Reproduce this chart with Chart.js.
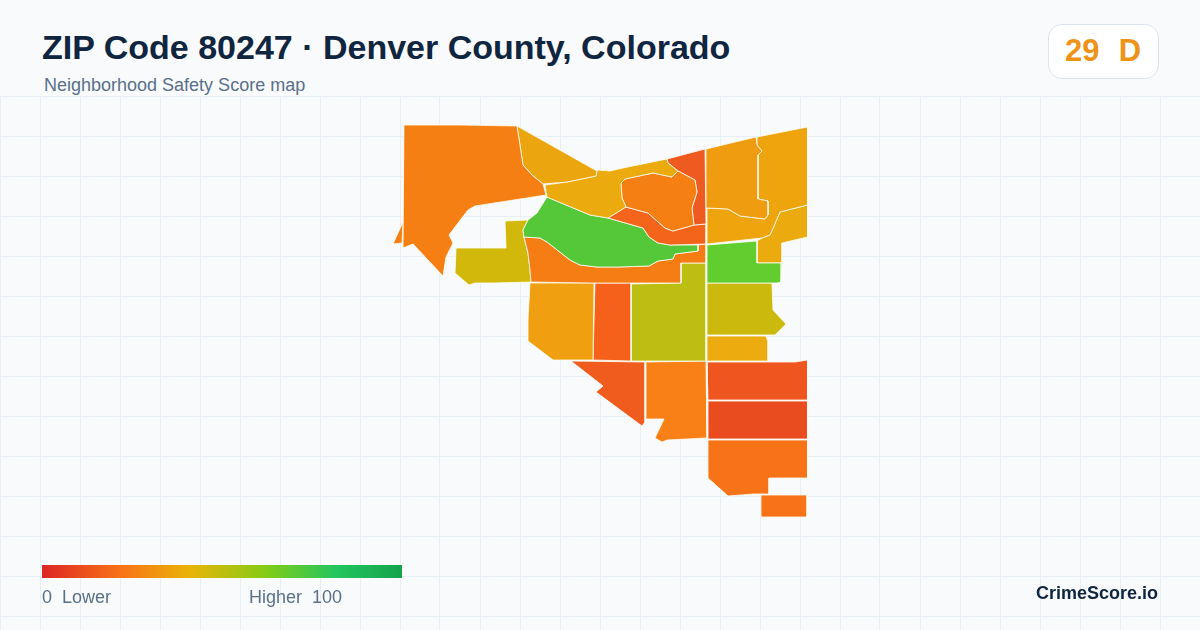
<!DOCTYPE html>
<html>
<head>
<meta charset="utf-8">
<title>ZIP Code 80247 map</title>
<script src="https://cdn.jsdelivr.net/npm/chart.js@4"></script>
<style>
  html, body { margin: 0; padding: 0; background: #f8fafc; }
  body { width: 1200px; height: 630px; position: relative; overflow: hidden; font-family: "Liberation Sans", Arial, sans-serif; }
  #map-wrap { position: absolute; left: 0; top: 96px; width: 1200px; height: 534px; }
  .abs { position: absolute; white-space: pre; }
  #title { left: 42px; top: 27px; font-size: 34px; line-height: 40px; font-weight: 700; color: #0f2540; }
  #subtitle { left: 44px; top: 75px; font-size: 18px; line-height: 20px; color: #5b7089; }
  #badge { left: 1048px; top: 24px; width: 109px; height: 53px; background: #fff; border: 1px solid #dde4ec; border-radius: 14px; }
  #score { left: 1065px; top: 33px; font-size: 31px; line-height: 36px; font-weight: 700; color: #ee9317; word-spacing: 1px; }
  #ramp { left: 42px; top: 565px; width: 360px; height: 13px; background: linear-gradient(90deg, #dc2626 0%, #f97316 22%, #eab308 41%, #84cc16 62%, #22c55e 82%, #16a34a 100%); }
  .legend-text { top: 587px; font-size: 18px; line-height: 20px; color: #5b7089; }
  #brand { left: 1036px; top: 583px; font-size: 18px; line-height: 20px; font-weight: 700; color: #0f2540; }
</style>
</head>
<body>
<div id="map-wrap"><canvas id="chart-map" width="1200" height="534"></canvas></div>
<div class="abs" id="title">ZIP Code 80247 · Denver County, Colorado</div>
<div class="abs" id="subtitle">Neighborhood Safety Score map</div>
<div class="abs" id="badge"></div>
<div class="abs" id="score">29  D</div>
<div class="abs" id="ramp"></div>
<div class="abs legend-text" style="left:42px">0  Lower</div>
<div class="abs legend-text" style="left:249px">Higher  100</div>
<div class="abs" id="brand">CrimeScore.io</div>

<script>
// Grid tick positions
const xTicks = [0,40,80,120,160,200,240,280,320,360,400,440,480,520,560,600,640,680,720,760,800,840,880,920,960,1000,1040,1080,1120,1160,1200];
const yTicks = [96,136,176,216,256,296,336,376,416,456,496,536,576,616];

// Neighborhood outlines
const northWest = [[404,125],[460,125],[517,126],[523,165],[532,175],[543,184],[546,195],[475,206],[468,210],[458,223],[449,235],[453,243],[446,257],[443,276],[413,244],[403,248]];
const northWestSliver = [[403,222],[393,244],[402,243]];
const topGold = [[517,126],[597,171],[596,176],[567,182],[543,184],[532,175],[523,165]];
const centerGold = [[545,185],[567,182],[596,176],[597,170],[610,171],[623,168],[667,159],[668,163],[678,171],[672,177],[653,173],[625,179],[621,183],[622,198],[626,207],[608,218],[590,215],[547,197]];
const innerOrange = [[625,179],[653,173],[672,177],[678,171],[695,180],[697,192],[692,208],[694,225],[673,231],[665,228],[648,213],[626,207],[622,198],[621,183]];
const topRed = [[667,159],[705,149],[706,224],[694,225],[692,208],[697,192],[695,180],[678,171],[668,163]];
const ribbon = [[626,207],[648,213],[665,228],[673,231],[694,225],[706,224],[706,244],[670,245],[658,243],[649,237],[643,228],[608,218]];
const parkGreen = [[547,197],[590,215],[608,218],[643,228],[649,237],[658,243],[670,245],[698,245],[698,251],[675,254],[673,259],[658,261],[649,266],[618,267],[597,267],[580,265],[570,260],[547,242],[540,238],[524,237],[523,230],[528,220],[537,213]];
const midBand = [[524,237],[540,238],[547,242],[570,260],[580,265],[597,267],[618,267],[649,266],[658,261],[673,259],[675,254],[698,251],[698,245],[706,244],[706,263],[681,263],[681,283],[590,283],[531,282],[530,270],[528,253]];
const westOlive = [[505,221],[528,220],[523,230],[524,237],[528,253],[530,270],[531,282],[493,283],[475,283],[469,285],[455,273],[456,248],[506,248]];
const southGold = [[530,283],[594,283],[593,360],[553,360],[528,341],[528,320]];
const stripRed = [[595,283],[631,283],[631,361],[593,360]];
const centerOlive = [[681,263],[706,263],[706,361],[631,361],[631,284],[681,283]];
const eastGreen = [[707,245],[757,241],[757,263],[782,263],[781,282],[777,283],[707,283]];
const eastOlive = [[707,283],[772,283],[773,310],[786,324],[775,335],[707,335]];
const eastGold = [[707,336],[766,336],[768,342],[768,361],[707,361]];
const diagonalRed = [[571,361],[645,362],[645,422],[642,426],[596,392],[603,386]];
const lowerOrange = [[646,362],[706,361],[707,438],[667,440],[662,442],[655,438],[664,419],[646,419]];
const blockRedA = [[707,362],[795,362],[807.5,360],[807.5,400],[708,400]];
const blockRedB = [[708,401],[807.5,401],[807.5,439],[708,439]];
const southOrange = [[708,440],[807.5,440],[807.5,478],[769,478],[769,494],[753,494],[728,496],[708,478]];
const southOrangeBlock = [[761,495],[807,495],[807,517],[761,517]];
const northEastOrange = [[706,149],[756,137],[757,145],[762,151],[758,155],[758,199],[768,201],[768,215],[765,219],[740,216],[728,209],[707,208]];
const northEastGold = [[757,137],[807.5,127],[807.5,205],[780,212],[770,235],[762,238],[707,244],[707,208],[728,209],[740,216],[765,219],[768,215],[768,201],[758,199],[758,155],[762,151],[757,145]];
const eastGoldTall = [[780,212],[807.5,205],[807.5,237],[782,243],[782,263],[757,263],[757,241],[762,238],[770,235]];

const regions = [
    northWest, northWestSliver, topGold, centerGold, innerOrange, topRed, ribbon, parkGreen, midBand, westOlive,
    southGold, stripRed, centerOlive, eastGreen, eastOlive, eastGold, diagonalRed, lowerOrange,
    blockRedA, blockRedB, southOrange, southOrangeBlock, northEastOrange, northEastGold, eastGoldTall,
];
const regionColors = [
    '#f67f13', '#f67f13', '#eba50e', '#ebaa0d', '#f67f13', '#ee5a20', '#f4641b', '#55c83a', '#f67c14', '#d3b80c',
    '#ef9f0f', '#f5611b', '#bcbf12', '#62cd2e', '#cbb90e', '#ecab0e', '#f05c1e', '#f88016',
    '#ee551f', '#e94c1f', '#f87318', '#f87318', '#ef9c11', '#eea40d', '#ebab0e',
];

const gridColor = '#e8eff4';

function makeRegion(points, color) {
    return {
        data: points.concat([points[0]]).map(p => ({ x: p[0], y: p[1] })),
        showLine: true,
        fill: 'shape',
        backgroundColor: color,
        borderColor: '#fffdf2',
        borderWidth: 0.8,
        pointRadius: 0,
        tension: 0,
        clip: false,
    };
}

new Chart(document.getElementById('chart-map'), {
    type: 'scatter',
    data: { datasets: regions.map((r, i) => makeRegion(r, regionColors[i])) },
    options: {
        responsive: false,
        animation: false,
        layout: { padding: 0 },
        plugins: { legend: { display: false }, tooltip: { enabled: false } },
        events: [],
        scales: {
            x: {
                type: 'linear',
                min: 0,
                max: 1200,
                afterBuildTicks: scale => { scale.ticks = xTicks.map(value => ({ value })); },
                grid: { color: gridColor, lineWidth: 1, drawTicks: false },
                border: { display: false },
                ticks: { display: false },
            },
            y: {
                type: 'linear',
                reverse: true,
                min: 96,
                max: 630,
                afterBuildTicks: scale => { scale.ticks = yTicks.map(value => ({ value })); },
                grid: { color: gridColor, lineWidth: 1, drawTicks: false },
                border: { display: false },
                ticks: { display: false },
            },
        },
    },
});
</script>
</body>
</html>
